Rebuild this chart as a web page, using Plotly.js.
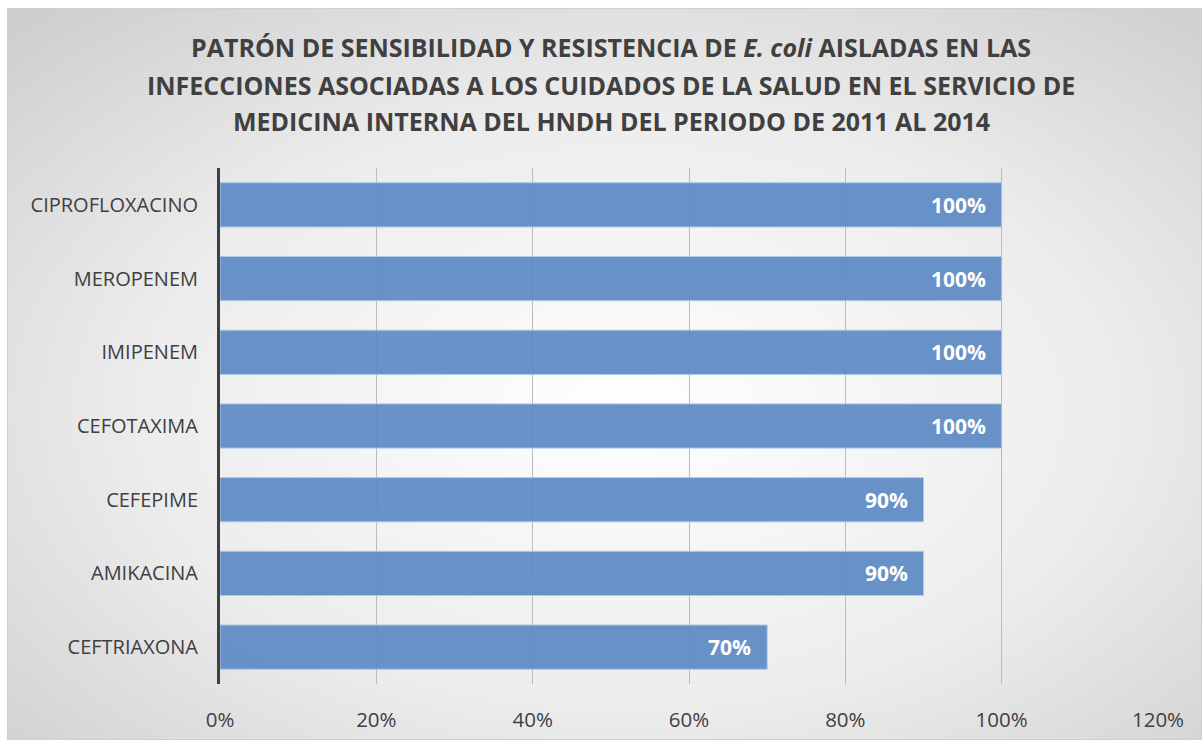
<!DOCTYPE html>
<html>
<head>
<meta charset="utf-8">
<script src="https://cdn.plot.ly/plotly-3.0.1.min.js"></script>
<style>
  html, body { margin: 0; padding: 0; background: #ffffff; }
  #frame {
    position: absolute; left: 7px; top: 8px; width: 1195px; height: 732px;
    border: 1px solid #d0d0d0; box-sizing: border-box;
    background: radial-gradient(ellipse 75% 75% at 52% 55%, #ffffff 0%, #ececec 55%, #cdcdcd 100%);
  }
  #chart { position: absolute; left: 0; top: 0; width: 1204px; height: 742px; }
</style>
</head>
<body>
<div id="frame"></div>
<div id="chart"></div>
<script>
const categories = ["CIPROFLOXACINO", "MEROPENEM", "IMIPENEM", "CEFOTAXIMA", "CEFEPIME", "AMIKACINA", "CEFTRIAXONA"];
const values = [1.00, 1.00, 1.00, 1.00, 0.90, 0.90, 0.70];
const valueLabels = ["100%", "100%", "100%", "100%", "90%", "90%", "70%"];
const tickValues = [0, 0.2, 0.4, 0.6, 0.8, 1.0, 1.2];
const tickLabels = ["0%", "20%", "40%", "60%", "80%", "100%", "120%"];
const titleLines = [
  "PATRÓN DE SENSIBILIDAD Y RESISTENCIA DE <i>E. coli</i> AISLADAS EN LAS",
  "INFECCIONES ASOCIADAS A LOS CUIDADOS DE LA SALUD EN EL SERVICIO DE",
  "MEDICINA INTERNA DEL HNDH DEL PERIODO DE 2011 AL 2014"
];

const font = "'Open Sans', sans-serif";

const trace = {
  type: "bar",
  orientation: "h",
  y: categories,
  x: values,
  marker: { color: "rgba(92,137,196,0.92)", line: { color: "#aec8e6", width: 1 } },
  hoverinfo: "none"
};

const annotations = categories.map((c, i) => ({
  x: values[i], y: c, xref: "x", yref: "y",
  text: "<b>" + valueLabels[i] + "</b>",
  showarrow: false, xanchor: "right", xshift: -14,
  font: { family: font, size: 21, color: "#ffffff" }
}));

const titleY = [47, 85, 121];
titleLines.forEach((t, i) => {
  annotations.push({
    xref: "paper", yref: "paper",
    x: (611 - 220) / (1204 - 220 - 46),
    y: 1 + (168 - titleY[i]) / (742 - 168 - 58),
    xanchor: "center", yanchor: "middle",
    text: "<b>" + t + "</b>", showarrow: false,
    font: { family: font, size: 25, color: "#404040" }
  });
});

const layout = {
  width: 1204, height: 742,
  paper_bgcolor: "rgba(0,0,0,0)",
  plot_bgcolor: "rgba(0,0,0,0)",
  margin: { l: 220, r: 46, t: 168, b: 58 },
  showlegend: false,
  bargap: 0.4,
  xaxis: {
    range: [0, 1.2],
    tickvals: tickValues, ticktext: tickLabels,
    showgrid: true, gridcolor: "#bcbcbc", gridwidth: 1,
    zeroline: false, showline: false, ticks: "",
    ticklabelstandoff: 21,
    tickfont: { family: font, size: 20.5, color: "#404040" }
  },
  yaxis: {
    autorange: "reversed",
    showline: true, linecolor: "#404040", linewidth: 3,
    showgrid: false, zeroline: false, ticks: "",
    ticklabelstandoff: 15,
    tickfont: { family: font, size: 20, color: "#404040" }
  },
  annotations: annotations
};

Plotly.newPlot("chart", [trace], layout, { staticPlot: true });
</script>
</body>
</html>
